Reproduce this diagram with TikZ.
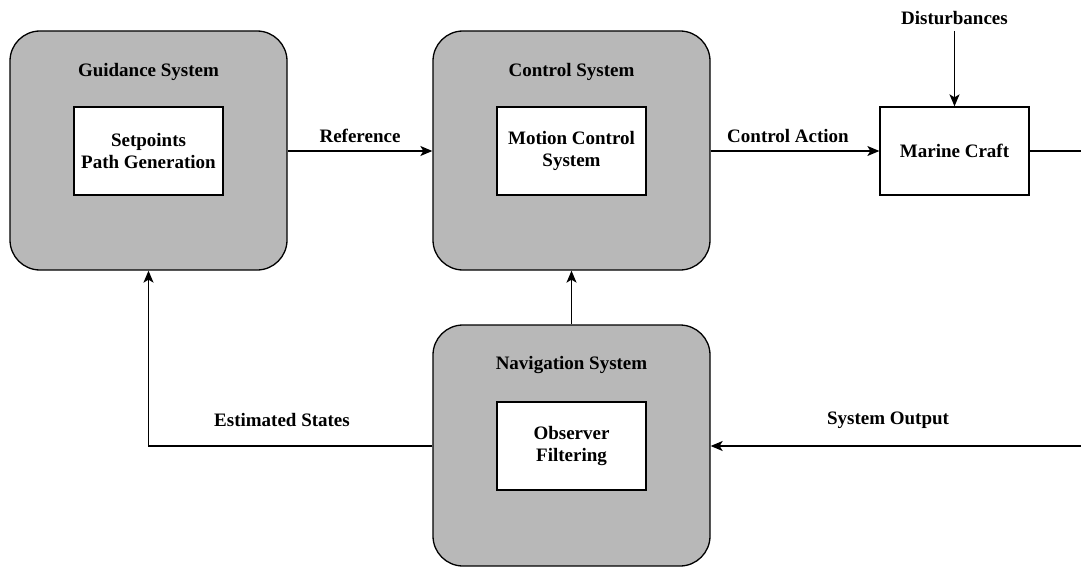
\documentclass[tikz,border=0pt]{standalone}
\usepackage{fontspec}
\setmainfont{Liberation Serif}
\usetikzlibrary{arrows.meta}
\definecolor{boxgrey}{RGB}{184,184,184}
\begin{document}
\begin{tikzpicture}[x=1pt,y=-1pt,
  every node/.style={font=\fontsize{19}{21.5}\selectfont\bfseries, align=center},
  outerbox/.style={draw, line width=1.3pt, fill=boxgrey, rounded corners=30pt, minimum width=277pt, inner sep=0pt},
  innerbox/.style={draw, line width=1.3pt, fill=white, minimum width=149pt, minimum height=88pt, inner sep=0pt},
  lbl/.style={inner sep=0pt},
  conn/.style={line width=1.3pt, -{Stealth[length=12pt,width=10pt,inset=3pt]}},
  plain/.style={line width=1.3pt}
]
\useasboundingbox (0,0) rectangle (1081,567);
% outer boxes
\node[outerbox, minimum height=239pt] (guid) at (148.5,150.5) {};
\node[outerbox, minimum height=239pt] (ctrl) at (571.5,150.5) {};
\node[outerbox, minimum height=241pt] (nav) at (571.5,445.5) {};
% titles
\node[lbl] (guidt) at (148.5,72) {Guidance System};
\node[lbl] (ctrlt) at (571.5,72) {Control System};
\node[lbl] (navt) at (571.5,365) {Navigation System};
% inner boxes
\node[innerbox] (guidin) at (148.5,151) {Setpoints\\Path Generation};
\node[innerbox] (ctrlin) at (571.5,151) {Motion Control\\System};
\node[innerbox] (navin) at (571.5,446) {Observer\\Filtering};
\node[innerbox] (craft) at (954.5,151) {Marine Craft};
% disturbances
\node[lbl] (dist) at (954.5,18) {Disturbances};
\coordinate (distend) at (954.5,31);
\coordinate (rtop) at (1083,151);
\coordinate (rbot) at (1083,446);
% connectors
\draw[conn] (guid.east |- 0,151) -- (ctrl.west |- 0,151);
\draw[conn] (ctrl.east |- 0,151) -- (craft.west);
\draw[conn] (distend) -- (craft.north);
\draw[plain] (craft.east) -- (rtop) -- (rbot);
\draw[conn] (rbot) -- (nav.east |- 0,446);
\draw[conn] (nav.north) -- (ctrl.south);
\draw[conn] (nav.west |- 0,446) -| (guid.south);
% labels
\node[lbl] (lref) at (360,136) {Reference};
\node[lbl] (lact) at (788,136) {Control Action};
\node[lbl] (lest) at (282,420) {Estimated States};
\node[lbl] (lout) at (888,420) {System Output};
\end{tikzpicture}
\end{document}
